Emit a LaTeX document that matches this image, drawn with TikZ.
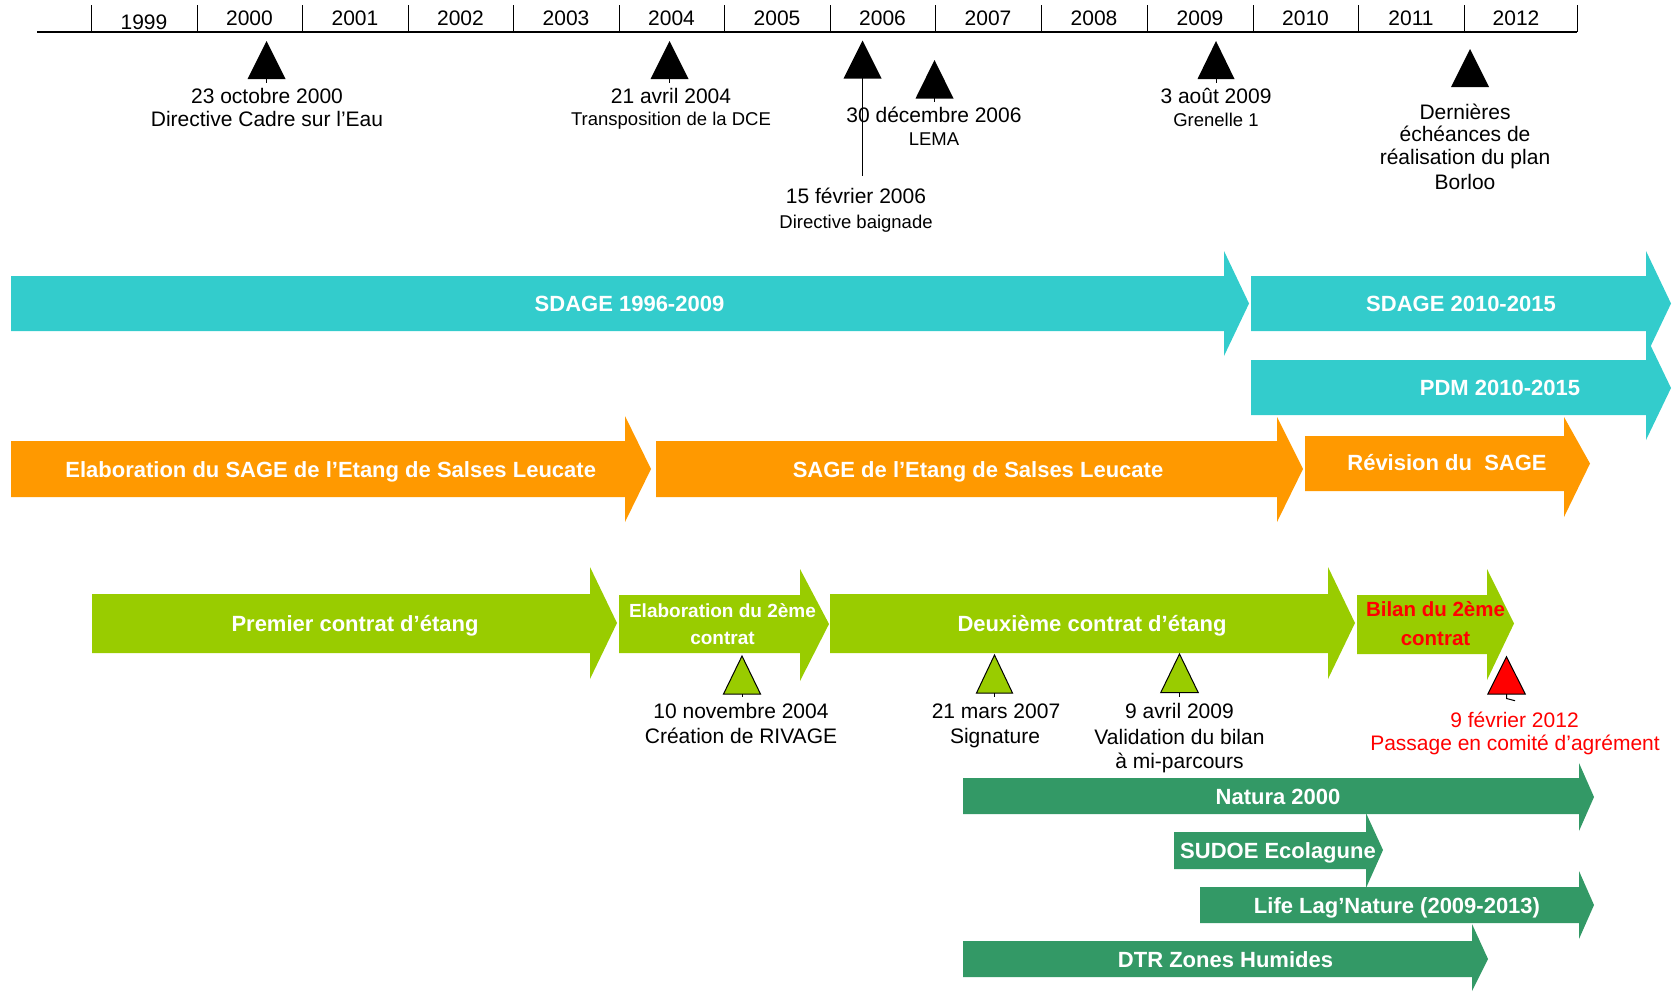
\documentclass[tikz,border=0pt]{standalone}
\usepackage{fontspec}
\setmainfont{Liberation Sans}
\definecolor{cyanbar}{HTML}{33CCCC}
\definecolor{orangebar}{HTML}{FF9900}
\definecolor{limebar}{HTML}{99CC00}
\definecolor{darkgreenbar}{HTML}{339966}
\definecolor{redmark}{HTML}{FF0000}
% #1 colour, #2 x left, #3 x head, #4 y top, #5 y bottom, #6 head top, #7 head bottom, #8 tip x, #9 tip y
\newcommand{\bararrow}[9]{\fill[#1] (#2,#4) -- (#3,#4) -- (#3,#6) -- (#8,#9) -- (#3,#7) -- (#3,#5) -- (#2,#5) -- cycle;}
% #1 style, #2 apex x, #3 apex y, #4 base y, #5 half width
\newcommand{\marktri}[5]{\path[#1] (#2,#3) -- (#2+#5,#4) -- (#2-#5,#4) -- cycle;}
\begin{document}
\begin{tikzpicture}[x=1pt,y=-1pt,
  lab/.style={font=\fontsize{21}{25}\selectfont, anchor=base, inner sep=0pt},
  slab/.style={font=\fontsize{18.5}{22}\selectfont, anchor=base, inner sep=0pt},
  blab/.style={font=\fontsize{22}{26}\selectfont\bfseries, text=white, anchor=base, inner sep=0pt},
  sblab/.style={font=\fontsize{19}{23}\selectfont\bfseries, text=white, anchor=base, inner sep=0pt},
  rblab/.style={font=\fontsize{20.5}{24}\selectfont\bfseries, text=redmark, anchor=base, inner sep=0pt},
  rlab/.style={lab, text=redmark},
  tline/.style={line width=1.3pt, black},
  blacktri/.style={fill=black},
  greentri/.style={fill=limebar, draw=black, line width=1pt, line join=miter},
  redtri/.style={fill=redmark, draw=black, line width=1pt, line join=miter},
  stem/.style={line width=1pt, black}
]
\useasboundingbox (0,0) rectangle (1673,991);

% ---------- timeline ----------
\draw[tline] (37,32) -- (1577,32);
\foreach \tx in {91,197,302,408,513,619,724,830,935,1041,1147,1253,1358,1464,1577}
  \draw[line width=1pt] (\tx,5) -- (\tx,32);
\node[lab] (y1999) at (144,29) {1999};
\node[lab] (y2000) at (249.5,25) {2000};
\node[lab] (y2001) at (355,25) {2001};
\node[lab] (y2002) at (460.5,25) {2002};
\node[lab] (y2003) at (566,25) {2003};
\node[lab] (y2004) at (671.5,25) {2004};
\node[lab] (y2005) at (777,25) {2005};
\node[lab] (y2006) at (882.5,25) {2006};
\node[lab] (y2007) at (988,25) {2007};
\node[lab] (y2008) at (1094,25) {2008};
\node[lab] (y2009) at (1200,25) {2009};
\node[lab] (y2010) at (1305.5,25) {2010};
\node[lab] (y2011) at (1411,25) {2011};
\node[lab] (y2012) at (1516,25) {2012};

% ---------- black milestones ----------
\marktri{blacktri}{266.5}{41}{79}{19}
\draw[stem] (266.5,79) -- (266.5,83);
\node[lab] (dce1) at (267,103.5) {23 octobre 2000};
\node[lab] (dce2) at (267,126) {Directive Cadre sur l’Eau};

\marktri{blacktri}{669.5}{41}{79}{19}
\draw[stem] (669.5,79) -- (669.5,83);
\node[lab] (tr1) at (671,103.5) {21 avril 2004};
\node[slab] (tr2) at (671,125) {Transposition de la DCE};

\marktri{blacktri}{862.5}{40.5}{78.5}{19}
\draw[stem] (862.5,78) -- (862.5,176);
\node[lab] (bg1) at (856,203) {15 février 2006};
\node[slab] (bg2) at (856,228) {Directive baignade};

\marktri{blacktri}{934.5}{60}{98.5}{19}
\draw[stem] (934.5,98) -- (934.5,102);
\node[lab] (lema1) at (934,122.7) {30 décembre 2006};
\node[slab] (lema2) at (934,145) {LEMA};

\marktri{blacktri}{1216}{41}{79}{18.5}
\draw[stem] (1216,79) -- (1216,83);
\node[lab] (gr1) at (1216,103) {3 août 2009};
\node[slab] (gr2) at (1216,126) {Grenelle 1};

\marktri{blacktri}{1470}{49}{87}{19}
\node[lab] (bor1) at (1465,119) {Dernières};
\node[lab] (bor2) at (1465,141.5) {échéances de};
\node[lab] (bor3) at (1465,164) {réalisation du plan};
\node[lab] (bor4) at (1465,189.5) {Borloo};

% ---------- cyan bars ----------
\bararrow{cyanbar}{11}{1224}{276}{331}{251}{356}{1249}{303.5}
\node[blab] (sdage1) at (629.5,311) {SDAGE 1996-2009};
\bararrow{cyanbar}{1251}{1646}{276}{331}{251}{356}{1671}{303.5}
\node[blab] (sdage2) at (1461,311) {SDAGE 2010-2015};
\bararrow{cyanbar}{1251}{1646}{360}{415}{336}{440}{1671}{388}
\node[blab] (pdm) at (1500,395) {PDM 2010-2015};

% ---------- orange bars ----------
\bararrow{orangebar}{11}{625}{441}{497}{416}{522}{651}{469}
\node[blab] (elabsage) at (330.7,477) {Elaboration du SAGE de l’Etang de Salses Leucate};
\bararrow{orangebar}{656}{1277}{441}{497}{417}{522}{1303}{469}
\node[blab] (sage) at (978,477) {SAGE de l’Etang de Salses Leucate};
\bararrow{orangebar}{1305}{1564}{436}{491}{417}{517}{1590}{463.5}
\node[blab] (revsage) at (1447,470) {Révision du\ \ SAGE};

% ---------- lime bars ----------
\bararrow{limebar}{92}{590}{594}{653}{567}{679}{617}{623}
\node[blab] (prem) at (355,631) {Premier contrat d’étang};
\bararrow{limebar}{619}{800}{595}{653}{569}{681}{829}{624}
\node[sblab] (elab2a) at (722.5,617) {Elaboration du 2ème};
\node[sblab] (elab2b) at (722.5,644) {contrat};
\bararrow{limebar}{830}{1328}{594}{653}{567}{679}{1355}{623}
\node[blab] (deux) at (1092,631) {Deuxième contrat d’étang};
\bararrow{limebar}{1357}{1487}{595}{654}{569}{680}{1514}{623.5}
\node[rblab] (bil1) at (1435.5,616) {Bilan du 2ème};
\node[rblab] (bil2) at (1435.5,645) {contrat};

% ---------- contract milestones ----------
\marktri{greentri}{742}{656}{694}{18.5}
\draw[stem] (742,694) -- (742,697);
\node[lab] (riv1) at (741,718.5) {10 novembre 2004};
\node[lab] (riv2) at (741,743) {Création de RIVAGE};

\marktri{greentri}{994.5}{655}{693}{18}
\draw[stem] (994.5,693) -- (994.5,697);
\node[lab] (sig1) at (996,718.5) {21 mars 2007};
\node[lab] (sig2) at (995,743) {Signature};

\marktri{greentri}{1179.5}{654}{692.7}{18.8}
\draw[stem] (1179.5,692.7) -- (1179.5,697);
\node[lab] (mi1) at (1179.5,718.5) {9 avril 2009};
\node[lab] (mi2) at (1179.5,744) {Validation du bilan};
\node[lab] (mi3) at (1179.5,768.3) {à mi-parcours};

\marktri{redtri}{1506.5}{656.7}{694}{18.7}
\draw[stem] (1506.5,694) -- (1506.5,698.5) -- (1515,700.7);
\node[rlab] (ag1) at (1514.5,727.7) {9 février 2012};
\node[rlab] (ag2) at (1515,750.7) {Passage en comité d’agrément};

% ---------- dark green bars ----------
\bararrow{darkgreenbar}{963}{1579}{778}{814}{763}{831}{1594}{797}
\node[blab] (natura) at (1278,804) {Natura 2000};
\bararrow{darkgreenbar}{1174}{1366}{832}{869}{813}{888}{1383}{850}
\node[blab] (sudoe) at (1278,858) {SUDOE Ecolagune};
\bararrow{darkgreenbar}{1200}{1579}{887}{923}{871}{939}{1594}{905}
\node[blab] (life) at (1397,913) {Life Lag’Nature (2009-2013)};
\bararrow{darkgreenbar}{963}{1472}{941}{977}{924}{991}{1488}{959}
\node[blab] (dtr) at (1225.5,967) {DTR Zones Humides};
\end{tikzpicture}
\end{document}
